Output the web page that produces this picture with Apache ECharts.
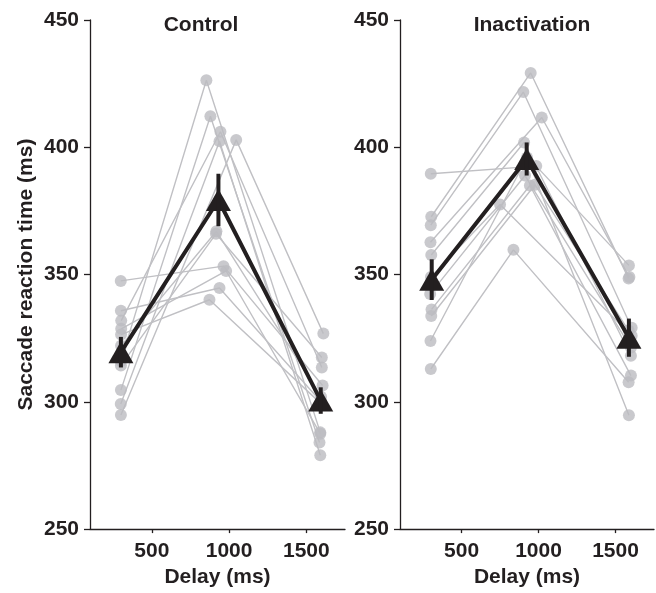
<!DOCTYPE html>
<html>
<head>
<meta charset="utf-8">
<script src="https://cdn.jsdelivr.net/npm/echarts@6/dist/echarts.min.js"></script>
<style>
html,body{margin:0;padding:0;background:#fff;}
#chart{width:656px;height:593px;}
</style>
</head>
<body>
<div id="chart"></div>
<script>
// ---------- Data ----------
const panelTitles = ['Control', 'Inactivation'];
const yTicks = [250, 300, 350, 400, 450];
const xTicks = [500, 1000, 1500];

// Control: per-subject delays (ms) and saccade reaction times (ms)
const ctrlShortDelay = [300, 300, 302, 299, 300, 301, 300, 299, 302, 300, 301];
const ctrlShortRT    = [316, 304.6, 331.9, 299.1, 294.8, 322, 314.3, 347.5, 328.7, 335.8, 326.4];
const ctrlMidDelay   = [853, 879, 944, 938, 1046, 918, 915, 964, 981, 938, 873];
const ctrlMidRT      = [426.3, 412.2, 406.1, 402.4, 402.9, 367, 366, 353.3, 351.4, 344.7, 340.1];
const ctrlLongDelay  = [1590, 1585, 1600, 1590, 1610, 1595, 1600, 1605, 1590, 1595, 1600];
const ctrlLongRT     = [288, 284, 313.5, 279, 326.8, 302, 317.4, 306.4, 287.5, 300, 299];

// Inactivation: per-subject delays (ms) and saccade reaction times (ms)
const inacShortDelay = [300, 303, 300, 298, 303, 301, 296, 305, 303, 298, 300];
const inacShortRT    = [389.6, 372.7, 369.4, 362.7, 357.7, 349, 342.4, 336.3, 333.7, 323.9, 312.9];
const inacMidDelay   = [985, 949, 901, 1021, 906, 750, 912, 944, 977, 925, 837];
const inacMidRT      = [392.6, 429.2, 421.7, 411.7, 401.9, 377.5, 388.9, 385, 385.3, 396, 359.7];
const inacLongDelay  = [1587, 1585, 1605, 1590, 1600, 1605, 1600, 1600, 1585, 1587, 1585];
const inacLongRT     = [353.6, 348.4, 329.1, 349, 318.1, 326, 321.3, 310.3, 328, 294.7, 307.7];

// Group means and standard errors
const ctrlMeanDelay = [300, 931, 1593];
const ctrlMeanRT    = [319.5, 379.3, 300.5];
const ctrlSem       = [6, 10.3, 5.2];
const inacMeanDelay = [306, 923, 1587];
const inacMeanRT    = [348, 395.4, 325.2];
const inacSem       = [8, 6.5, 7.5];

// ---------- Styling ----------
const FONT = '"Liberation Sans", Arial, Helvetica, sans-serif';
const INK = '#231f20';
const GRAY_PT = '#bcbcc0';
const GRAY_LN = '#c0c0c4';

const panels = [
  {sd: ctrlShortDelay, sr: ctrlShortRT, md: ctrlMidDelay, mr: ctrlMidRT, ld: ctrlLongDelay, lr: ctrlLongRT,
   mD: ctrlMeanDelay, mR: ctrlMeanRT, se: ctrlSem},
  {sd: inacShortDelay, sr: inacShortRT, md: inacMidDelay, mr: inacMidRT, ld: inacLongDelay, lr: inacLongRT,
   mD: inacMeanDelay, mR: inacMeanRT, se: inacSem}
];

const grids = [
  {left: 90, top: 20, width: 255, height: 513},
  {left: 400, top: 20, width: 254, height: 513}
];

const xAxes = grids.map((g, i) => ({
  type: 'value', gridIndex: i, min: 100, max: 1750,
  name: 'Delay (ms)', nameLocation: 'middle', nameGap: 37,
  nameTextStyle: {fontFamily: FONT, fontWeight: 'bold', fontSize: 21, color: INK},
  axisLine: {show: true, onZero: false, lineStyle: {color: INK, width: 1.3}},
  axisTick: {show: true, length: 4, customValues: xTicks, lineStyle: {color: INK, width: 1.3}},
  axisLabel: {customValues: xTicks, margin: 12, formatter: v => String(v),
    fontFamily: FONT, fontWeight: 'bold', fontSize: 21, color: INK},
  splitLine: {show: false}
}));

const yAxes = grids.map((g, i) => ({
  type: 'value', gridIndex: i, min: yTicks[0], max: yTicks[yTicks.length - 1], interval: 50,
  name: i === 0 ? 'Saccade reaction time (ms)' : '', nameLocation: 'middle', nameGap: 53,
  nameTextStyle: {fontFamily: FONT, fontWeight: 'bold', fontSize: 21, color: INK},
  axisLine: {show: true, lineStyle: {color: INK, width: 1.3}},
  axisTick: {show: true, length: 6, lineStyle: {color: INK, width: 1.3}},
  axisLabel: {margin: 11, formatter: v => String(v),
    fontFamily: FONT, fontWeight: 'bold', fontSize: 21, color: INK},
  splitLine: {show: false}
}));

const series = [];
panels.forEach((p, gi) => {
  // subject lines
  for (let s = 0; s < p.sr.length; s++) {
    series.push({
      type: 'line', xAxisIndex: gi, yAxisIndex: gi, symbol: 'none', silent: true,
      lineStyle: {color: GRAY_LN, width: 1.4}, z: 1,
      data: [[p.sd[s], p.sr[s]], [p.md[s], p.mr[s]], [p.ld[s], p.lr[s]]]
    });
  }
  // subject points
  const pts = [];
  for (let s = 0; s < p.sr.length; s++) {
    pts.push([p.sd[s], p.sr[s]], [p.md[s], p.mr[s]], [p.ld[s], p.lr[s]]);
  }
  series.push({
    type: 'scatter', xAxisIndex: gi, yAxisIndex: gi, symbol: 'circle', symbolSize: 12,
    itemStyle: {color: GRAY_PT}, z: 2, data: pts
  });
  // mean line with triangles
  series.push({
    type: 'line', xAxisIndex: gi, yAxisIndex: gi, symbol: 'triangle', symbolSize: [25, 22],
    showAllSymbol: true,
    itemStyle: {color: INK}, lineStyle: {color: INK, width: 4}, z: 5,
    data: p.mD.map((d, k) => [d, p.mR[k]])
  });
  // error bars
  series.push({
    type: 'custom', xAxisIndex: gi, yAxisIndex: gi, z: 6,
    data: p.mD.map((d, k) => [d, p.mR[k] - p.se[k], p.mR[k] + p.se[k]]),
    renderItem: function (params, api) {
      const a = api.coord([api.value(0), api.value(1)]);
      const b = api.coord([api.value(0), api.value(2)]);
      return {
        type: 'line',
        shape: {x1: a[0], y1: a[1], x2: b[0], y2: b[1]},
        style: {stroke: INK, lineWidth: 4}
      };
    }
  });
});

const chart = echarts.init(document.getElementById('chart'), null, {renderer: 'canvas'});
chart.setOption({
  animation: false,
  backgroundColor: '#ffffff',
  grid: grids,
  xAxis: xAxes,
  yAxis: yAxes,
  graphic: [
    {type: 'text', x: 201, y: 25, style: {text: panelTitles[0], align: 'center', verticalAlign: 'middle',
      font: 'bold 21px ' + FONT, fill: INK}},
    {type: 'text', x: 532, y: 25, style: {text: panelTitles[1], align: 'center', verticalAlign: 'middle',
      font: 'bold 21px ' + FONT, fill: INK}}
  ],
  series: series
});
</script>
</body>
</html>
